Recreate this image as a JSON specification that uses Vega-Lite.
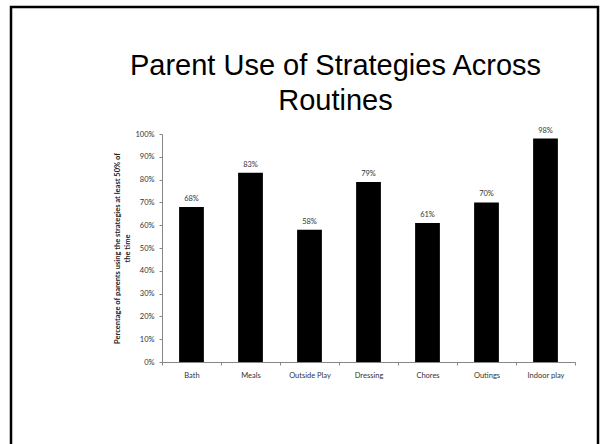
{
  "$schema": "https://vega.github.io/schema/vega-lite/v6.json",
  "width": 587,
  "height": 450,
  "autosize": {"type": "none"},
  "padding": {"left": 11, "top": 7, "right": 2, "bottom": -13},
  "background": "white",
  "config": {
    "view": {"stroke": "black", "strokeWidth": 2.5, "fill": "white"},
    "font": "Lato"
  },
  "title": {
    "text": ["Parent Use of Strategies Across", "Routines"],
    "font": "Liberation Sans",
    "fontSize": 29,
    "fontWeight": "normal",
    "color": "black",
    "anchor": "middle",
    "frame": "group",
    "baseline": "top",
    "offset": 0,
    "dx": 31,
    "dy": 109,
    "lineHeight": 35
  },
  "data": {
    "values": [
      {"routine": "Bath", "pct": 0.68},
      {"routine": "Meals", "pct": 0.83},
      {"routine": "Outside Play", "pct": 0.58},
      {"routine": "Dressing", "pct": 0.79},
      {"routine": "Chores", "pct": 0.61},
      {"routine": "Outings", "pct": 0.70},
      {"routine": "Indoor play", "pct": 0.98}
    ]
  },
  "encoding": {
    "x": {
      "field": "routine",
      "type": "nominal",
      "sort": null,
      "scale": {"range": [151, 564], "paddingInner": 0, "paddingOuter": 0},
      "axis": {
        "title": null,
        "orient": "bottom",
        "offset": -95,
        "labelAngle": 0,
        "tickBand": "extent",
        "domainColor": "#868686",
        "tickColor": "#868686",
        "tickSize": 3,
        "labelPadding": 6,
        "labelFontSize": 7.5,
        "labelColor": "#333333",
        "labelFont": "Lato"
      }
    },
    "y": {
      "field": "pct",
      "type": "quantitative",
      "scale": {"domain": [0, 1], "range": [355, 127], "nice": false},
      "axis": {
        "orient": "left",
        "offset": -151,
        "values": [0, 0.1, 0.2, 0.3, 0.4, 0.5, 0.6, 0.7, 0.8, 0.9, 1],
        "format": ".0%",
        "grid": false,
        "domainColor": "#868686",
        "tickColor": "#868686",
        "tickSize": 3,
        "labelPadding": 5,
        "labelFontSize": 7.5,
        "labelColor": "#333333",
        "labelFont": "Lato",
        "title": ["Percentage of parents using the strategies at least 50% of", "the time"],
        "titleFont": "Lato",
        "titleFontSize": 7.5,
        "titleFontWeight": "bold",
        "titleColor": "#222222",
        "titleLineHeight": 10,
        "titlePadding": 3
      }
    }
  },
  "layer": [
    {"mark": {"type": "bar", "color": "black", "width": {"band": 0.42}}},
    {
      "mark": {"type": "text", "baseline": "bottom", "dy": -4, "fontSize": 7.5, "color": "#333333", "font": "Lato"},
      "encoding": {"text": {"field": "pct", "type": "quantitative", "format": ".0%"}}
    }
  ]
}
